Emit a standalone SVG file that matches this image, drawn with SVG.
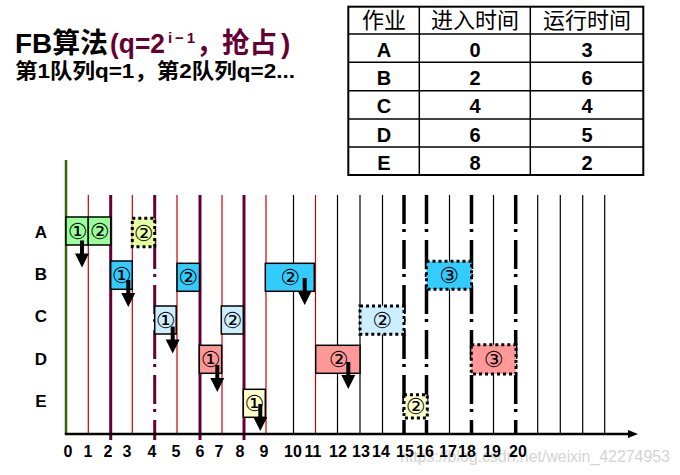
<svg xmlns="http://www.w3.org/2000/svg" width="680" height="475" viewBox="0 0 680 475">
<style>
.red{stroke:#cc0000;stroke-width:1.2;fill:none}
.blk{stroke:#000;stroke-width:1.2;fill:none}
.pur{stroke:#660033;stroke-width:3;fill:none}
.bd{stroke:#000;stroke-width:3.5;fill:none}
.dd{stroke-dasharray:29 5 3 8}
.box{stroke:#000;stroke-width:1.5}
.dot{stroke:#000;stroke-width:3;stroke-dasharray:3 3}
.num{font-family:"DejaVu Sans",sans-serif;font-size:22px;text-anchor:middle}
.lbl{font-family:"Liberation Sans",Arial,sans-serif;font-weight:bold;font-size:17px;text-anchor:middle}
.tick{font-family:"Liberation Sans",Arial,sans-serif;font-weight:bold;font-size:16px;text-anchor:middle}
.cell{font-family:"Liberation Sans",Arial,sans-serif;font-weight:bold;font-size:20px;text-anchor:middle}
.hdr{font-family:"Noto Sans CJK SC",sans-serif;font-size:22px;text-anchor:middle}
.ttl{font-family:"Liberation Sans","Noto Sans CJK SC",sans-serif;font-weight:bold}
</style>
<defs>
<path id="arr" d="M-2,0 h4 v13 h5 l-7,14 l-7,-14 h5 z" fill="#000"/>
</defs>
<rect width="680" height="475" fill="#fff"/>

<!-- Title -->
<g id="title" class="ttl">
<text x="15" y="53" font-size="28" fill="#000" textLength="93" lengthAdjust="spacingAndGlyphs">FB算法</text>
<text x="110" y="53" font-size="28" fill="#660033" textLength="55" lengthAdjust="spacingAndGlyphs">(q=2</text>
<text x="168" y="43" font-size="15" fill="#660033" textLength="27">i−1</text>
<text x="196" y="53" font-size="28" fill="#660033">，</text>
<text x="222" y="53" font-size="28" fill="#660033" textLength="55" lengthAdjust="spacingAndGlyphs">抢占</text>
<text x="281" y="53" font-size="28" fill="#660033">)</text>
<text x="15" y="78" font-size="21" fill="#000" textLength="280" lengthAdjust="spacingAndGlyphs">第1队列q=1，第2队列q=2...</text>
</g>

<!-- Table -->
<g id="table">
<rect x="348.3" y="6.7" width="295" height="168.3" fill="none" stroke="#000" stroke-width="2"/>
<g stroke="#000" stroke-width="1.5">
<line x1="419.3" y1="6.7" x2="419.3" y2="175"/>
<line x1="530.3" y1="6.7" x2="530.3" y2="175"/>
<line x1="348.3" y1="34" x2="643.3" y2="34"/>
<line x1="348.3" y1="62.3" x2="643.3" y2="62.3"/>
<line x1="348.3" y1="90.7" x2="643.3" y2="90.7"/>
<line x1="348.3" y1="119" x2="643.3" y2="119"/>
<line x1="348.3" y1="147" x2="643.3" y2="147"/>
</g>
<text class="hdr" x="384" y="28">作业</text>
<text class="hdr" x="475" y="28">进入时间</text>
<text class="hdr" x="587" y="28">运行时间</text>
<text class="cell" x="384" y="56.5">A</text><text class="cell" x="475" y="56.5">0</text><text class="cell" x="587" y="56.5">3</text>
<text class="cell" x="384" y="85">B</text><text class="cell" x="475" y="85">2</text><text class="cell" x="587" y="85">6</text>
<text class="cell" x="384" y="113.3">C</text><text class="cell" x="475" y="113.3">4</text><text class="cell" x="587" y="113.3">4</text>
<text class="cell" x="384" y="141.7">D</text><text class="cell" x="475" y="141.7">6</text><text class="cell" x="587" y="141.7">5</text>
<text class="cell" x="384" y="170">E</text><text class="cell" x="475" y="170">8</text><text class="cell" x="587" y="170">2</text>
</g>

<!-- Grid lines -->
<g id="grid">
<line class="red" x1="88.3" y1="195" x2="88.3" y2="434"/>
<line class="red" x1="132.3" y1="195" x2="132.3" y2="434"/>
<line class="red" x1="177" y1="195" x2="177" y2="434"/>
<line class="red" x1="222" y1="195" x2="222" y2="434"/>
<line class="red" x1="266" y1="195" x2="266" y2="434"/>
<line class="red" x1="315.5" y1="195" x2="315.5" y2="434"/>
<line class="blk" x1="293.5" y1="195" x2="293.5" y2="434"/>
<line class="blk" x1="337.5" y1="195" x2="337.5" y2="434"/>
<line class="blk" x1="360" y1="195" x2="360" y2="434"/>
<line class="blk" x1="382.5" y1="195" x2="382.5" y2="434"/>
<line class="blk" x1="449.5" y1="195" x2="449.5" y2="434"/>
<line class="blk" x1="493.5" y1="195" x2="493.5" y2="434"/>
<line class="blk" x1="537.7" y1="195" x2="537.7" y2="434"/>
<line class="blk" x1="560.3" y1="195" x2="560.3" y2="434"/>
<line class="blk" x1="582.7" y1="195" x2="582.7" y2="434"/>
<line class="blk" x1="604.7" y1="195" x2="604.7" y2="434"/>
<line class="bd dd" x1="404" y1="195" x2="404" y2="434"/>
<line class="bd dd" x1="426.5" y1="195" x2="426.5" y2="434"/>
<line class="bd dd" x1="471.5" y1="195" x2="471.5" y2="434"/>
<line class="bd dd" x1="515.7" y1="195" x2="515.7" y2="434"/>
<line class="pur" x1="110.7" y1="195" x2="110.7" y2="440"/>
<line class="pur dd" x1="154.7" y1="195" x2="154.7" y2="440"/>
<line class="pur" x1="200" y1="195" x2="200" y2="440"/>
<line class="pur" x1="244" y1="195" x2="244" y2="440"/>
<line x1="66" y1="160" x2="66" y2="434" stroke="#336600" stroke-width="2.5"/>
<line x1="64.8" y1="434" x2="630" y2="434" stroke="#000" stroke-width="2.5"/>
<polygon points="628,430 638,434 628,438" fill="#000"/>
</g>

<!-- Row labels -->
<g id="rows">
<text class="lbl" x="41" y="238">A</text>
<text class="lbl" x="41" y="280">B</text>
<text class="lbl" x="41" y="322">C</text>
<text class="lbl" x="41" y="365">D</text>
<text class="lbl" x="41" y="407">E</text>
</g>

<!-- Boxes -->
<g id="A1"><rect class="box" x="66" y="217" width="22.3" height="28" fill="#99ff99"/><text class="num" x="77.5" y="239">①</text></g>
<g id="A2"><rect class="box" x="88.3" y="217" width="22.4" height="28" fill="#99ff99"/><text class="num" x="99.5" y="239">②</text></g>
<g id="A3"><rect class="dot" x="132.3" y="218.3" width="22.4" height="28.4" fill="#e6ffa0"/><text class="num" x="143.5" y="240.5">②</text></g>
<g id="B1"><rect class="box" x="110.7" y="261" width="21.6" height="28.3" fill="#33ccff"/><text class="num" x="121.5" y="283">①</text></g>
<g id="B2"><rect class="box" x="177" y="263.3" width="22.5" height="28" fill="#33ccff"/><text class="num" x="188.2" y="285.3">②</text></g>
<g id="B3"><rect class="box" x="265.3" y="263.3" width="49" height="28" fill="#33ccff"/><text class="num" x="290" y="285.3">②</text></g>
<g id="B4"><rect class="dot" x="426.5" y="261.3" width="45" height="28" fill="#33ccff"/><text class="num" x="449" y="283.3">③</text></g>
<g id="C1"><rect class="box" x="154.7" y="306" width="21.5" height="28" fill="#cceeff"/><text class="num" x="165.5" y="328">①</text></g>
<g id="C2"><rect class="box" x="221.3" y="306" width="22" height="28" fill="#cceeff"/><text class="num" x="232.3" y="328">②</text></g>
<g id="C3"><rect class="dot" x="360" y="306" width="44" height="28.3" fill="#cceeff"/><text class="num" x="382" y="328">②</text></g>
<g id="D1"><rect class="box" x="199.3" y="345.3" width="22.4" height="28" fill="#ff9999"/><text class="num" x="210.5" y="367.3">①</text></g>
<g id="D2"><rect class="box" x="315.7" y="345.3" width="44.3" height="28" fill="#ff9999"/><text class="num" x="338.5" y="367.3">②</text></g>
<g id="D3"><rect class="dot" x="471.3" y="344.7" width="44.7" height="29.3" fill="#ff9999"/><text class="num" x="493.7" y="367.3">③</text></g>
<g id="E1"><rect class="box" x="243.3" y="389.3" width="22" height="28" fill="#ffffcc"/><text class="num" x="254.3" y="411.3">①</text></g>
<g id="E2"><rect class="dot" x="404" y="394.7" width="23.3" height="23.3" fill="#ffffcc"/><text class="num" x="415.6" y="414">②</text></g>

<!-- Arrows -->
<g id="connectors">
<use href="#arr" x="82" y="240.5"/>
<use href="#arr" x="128.3" y="280"/>
<use href="#arr" x="304.7" y="278"/>
<use href="#arr" x="172.7" y="326.5"/>
<use href="#arr" x="217.3" y="365"/>
<use href="#arr" x="348.3" y="362"/>
<use href="#arr" x="260.3" y="404"/>
</g>

<!-- Watermark -->
<text x="400" y="462" font-family="Liberation Sans,Arial,sans-serif" font-size="16" fill="#d4d4d4" textLength="270">https://blog.csdn.net/weixin_42274953</text>

<!-- Ticks -->
<g id="ticks" class="tick">
<text x="68" y="457">0</text><text x="88" y="457">1</text><text x="108" y="457">2</text><text x="127" y="457">3</text>
<text x="152" y="457">4</text><text x="176" y="457">5</text><text x="200" y="457">6</text><text x="219" y="457">7</text>
<text x="240" y="457">8</text><text x="264" y="457">9</text><text x="293" y="457">10</text><text x="313" y="457">11</text>
<text x="338" y="457">12</text><text x="361" y="457">13</text><text x="381" y="457">14</text><text x="405" y="457">15</text>
<text x="425" y="457">16</text><text x="448" y="457">17</text><text x="467" y="457">18</text><text x="492" y="457">19</text>
<text x="518" y="457">20</text>
</g>
</svg>
